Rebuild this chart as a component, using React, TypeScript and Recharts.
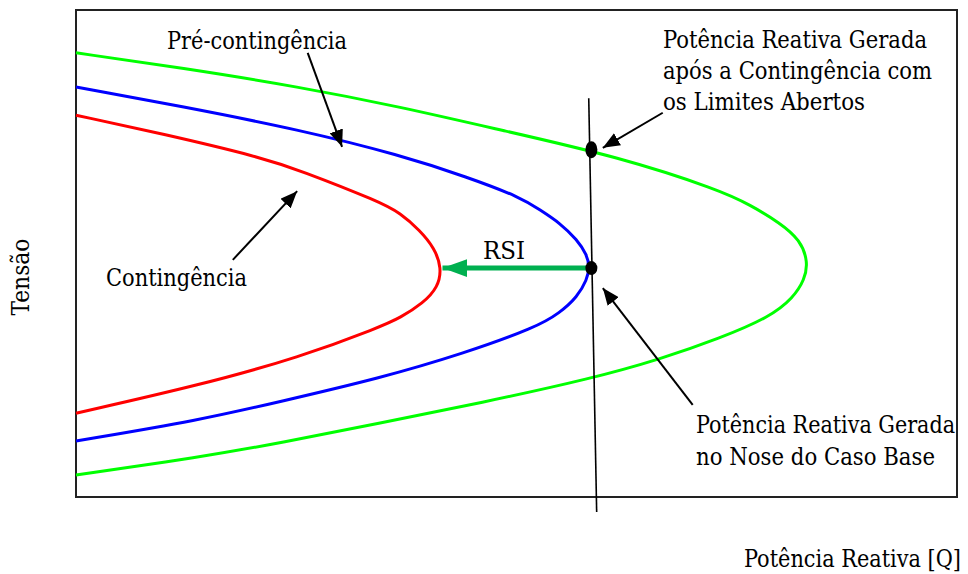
import React from "react";
import {
  ComposedChart, Line, Scatter, XAxis, YAxis, ReferenceLine, ReferenceArea,
} from "recharts";

// curves: q = reactive power, v = voltage (both 0..100)
const greenCurve = [
  { q: 0, v: 4.5 }, { q: 14.1, v: 8.2 }, { q: 23.2, v: 11.1 }, { q: 34.5, v: 15.2 },
  { q: 45.9, v: 19.3 }, { q: 58.7, v: 24.4 }, { q: 66.3, v: 28.3 }, { q: 73.1, v: 32.6 },
  { q: 78.8, v: 37.0 }, { q: 81.4, v: 40.9 }, { q: 82.7, v: 44.6 }, { q: 83.1, v: 48.3 },
  { q: 82.2, v: 52.8 }, { q: 79.9, v: 56.3 }, { q: 76.5, v: 60.0 }, { q: 73.1, v: 63.0 },
  { q: 61.7, v: 69.8 }, { q: 48.1, v: 75.4 }, { q: 36.8, v: 80.1 }, { q: 25.4, v: 84.2 },
  { q: 12.0, v: 88.1 }, { q: 0, v: 91.2 },
];
const blueCurve = [
  { q: 0, v: 11.5 }, { q: 14.1, v: 15.8 }, { q: 23.2, v: 19.6 }, { q: 34.5, v: 24.4 },
  { q: 43.9, v: 29.4 }, { q: 52.3, v: 34.9 }, { q: 54.9, v: 37.8 }, { q: 56.9, v: 41.1 },
  { q: 58.0, v: 44.6 }, { q: 58.3, v: 47.2 }, { q: 58.0, v: 49.7 }, { q: 56.9, v: 52.8 },
  { q: 54.9, v: 56.3 }, { q: 52.7, v: 58.9 }, { q: 50.4, v: 61.6 }, { q: 44.4, v: 65.7 },
  { q: 36.8, v: 70.2 }, { q: 25.4, v: 75.4 }, { q: 12.0, v: 80.2 }, { q: 0, v: 84.2 },
];
const redCurve = [
  { q: 0, v: 17.2 }, { q: 14.1, v: 23.0 }, { q: 25.4, v: 28.7 }, { q: 34.5, v: 34.9 },
  { q: 36.8, v: 36.8 }, { q: 39.4, v: 39.8 }, { q: 41.1, v: 43.1 }, { q: 41.5, v: 47.0 },
  { q: 40.7, v: 51.1 }, { q: 39.0, v: 54.8 }, { q: 36.8, v: 58.3 }, { q: 34.5, v: 60.6 },
  { q: 25.4, v: 67.1 }, { q: 20.9, v: 69.8 }, { q: 10.0, v: 74.5 }, { q: 0, v: 78.4 },
];

const markedPoints = [
  { q: 58.5, v: 71.3, ry: 8.5 },
  { q: 58.5, v: 47.0, ry: 7 },
];

// generation limit line and RSI arrow
const limitLine = [{ x: 58.2, y: 81.9 }, { x: 59.1, y: -3.1 }];
const rsiArrow = [{ x: 58.3, y: 47.0 }, { x: 41.6, y: 47.0 }];

// annotation arrows (tail -> head)
const pointers = [
  [{ x: 26.3, y: 91.2 }, { x: 30.2, y: 71.9 }],
  [{ x: 17.8, y: 48.7 }, { x: 25.1, y: 62.8 }],
  [{ x: 66.6, y: 78.9 }, { x: 59.8, y: 71.7 }],
  [{ x: 70.0, y: 18.9 }, { x: 59.8, y: 42.9 }],
];

// annotation texts: [text, x, baseline, width]
const labels: [string, number, number, number][] = [
  ["Pré-contingência", 167, 49, 180],
  ["Contingência", 106, 286, 141],
  ["RSI", 483, 259, 42],
  ["Potência Reativa Gerada", 663, 48, 264],
  ["após a Contingência com", 663, 79, 269],
  ["os Limites Abertos", 663, 110, 202],
  ["Potência Reativa Gerada", 696, 433, 259],
  ["no Nose do Caso Base", 696, 465, 239],
  ["Potência Reativa [Q]", 744, 567, 217],
];

const serif = "'DejaVu Serif Condensed', 'DejaVu Serif', serif";

export default function App() {
  const t = { fontFamily: serif, fontSize: 24, fill: "#000", fontStretch: "condensed" } as const;
  return (
    <div style={{ position: "fixed", left: 0, top: 0, width: 968, height: 574, background: "#fff" }}>
      <ComposedChart width={968} height={574} margin={{ top: 10, right: 11, bottom: 77, left: 76 }}>
        <defs>
          <marker id="headBlack" markerUnits="userSpaceOnUse" markerWidth={18} markerHeight={14} refX={17} refY={7} orient="auto">
            <path d="M0,0 L17,7 L0,14 z" fill="#000" />
          </marker>
          <marker id="headGreen" markerUnits="userSpaceOnUse" markerWidth={26} markerHeight={18} refX={25} refY={9} orient="auto">
            <path d="M0,0 L25,9 L0,18 z" fill="#00b050" />
          </marker>
        </defs>
        <XAxis type="number" dataKey="q" domain={[0, 100]} hide />
        <YAxis type="number" dataKey="v" domain={[0, 100]} hide />
        <ReferenceArea x1={0} x2={100} y1={0} y2={100} fill="none" stroke="#222" strokeWidth={2} fillOpacity={0} />
        <Line data={greenCurve} dataKey="v" type="basis" stroke="#00ff00" strokeWidth={3} dot={false} isAnimationActive={false} />
        <Line data={blueCurve} dataKey="v" type="basis" stroke="#0000ff" strokeWidth={3} dot={false} isAnimationActive={false} />
        <Line data={redCurve} dataKey="v" type="basis" stroke="#ff0000" strokeWidth={3} dot={false} isAnimationActive={false} />
        <ReferenceLine segment={limitLine} stroke="#000" strokeWidth={1.6} ifOverflow="visible" />
        <ReferenceLine segment={rsiArrow} stroke="#00b050" strokeWidth={5} markerEnd="url(#headGreen)" ifOverflow="visible" />
        {pointers.map((seg, i) => (
          <ReferenceLine key={i} segment={seg} stroke="#000" strokeWidth={2} markerEnd="url(#headBlack)" ifOverflow="visible" />
        ))}
        <Scatter
          data={markedPoints}
          dataKey="v"
          isAnimationActive={false}
          shape={(p: any) => <ellipse cx={p.cx} cy={p.cy} rx={6} ry={p.payload.ry} fill="#000" />}
        />
      </ComposedChart>
      <svg width={968} height={574} style={{ position: "absolute", left: 0, top: 0, pointerEvents: "none" }}>
        {labels.map(([s, x, y, w], i) => (
          <text key={i} x={x} y={y} {...t} textLength={w} lengthAdjust="spacingAndGlyphs">{s}</text>
        ))}
        <text x={29} y={277} {...t} textAnchor="middle" textLength={77} lengthAdjust="spacingAndGlyphs" transform="rotate(-90 29 277)">Tensão</text>
      </svg>
    </div>
  );
}
